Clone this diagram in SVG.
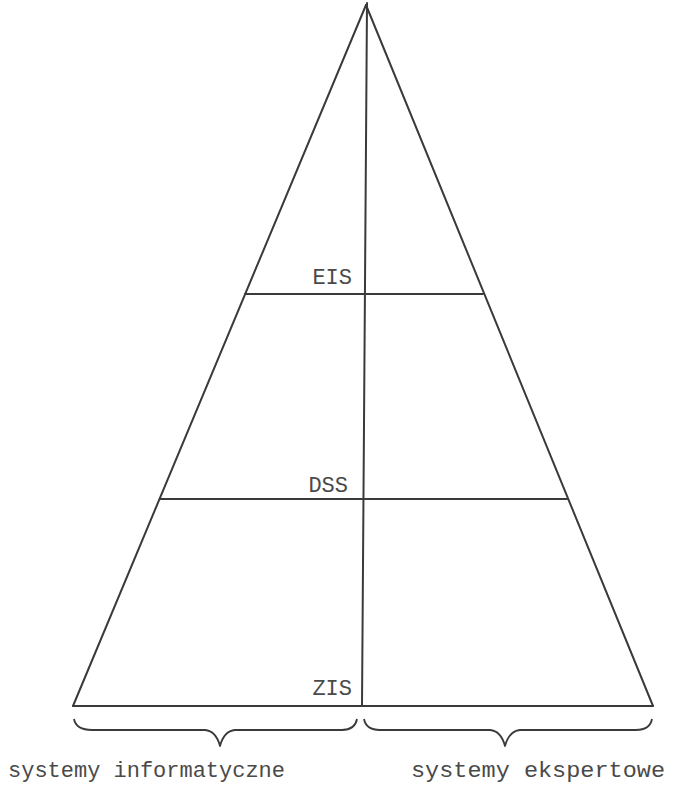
<svg xmlns="http://www.w3.org/2000/svg" width="676" height="789" viewBox="0 0 676 789">
<style>
.ln{stroke:#3a3a3a;stroke-width:2;fill:none;stroke-linecap:round}
.br{stroke:#3a3a3a;stroke-width:1.8;fill:none;stroke-linejoin:round}
.t{font-family:"Liberation Mono","DejaVu Sans Mono",monospace;font-size:22px;fill:#4a4a4a}
</style>
<rect width="676" height="789" fill="#fff"/>
<g id="connectors">
<path class="ln" d="M366,5 L73,706"/>
<path class="ln" d="M366,5 L653,706"/>
<path class="ln" d="M367,3 L362,706"/>
</g>
<g id="ZIS">
<path class="ln" d="M73,706 L653,706"/>
<text class="t" x="352" y="695" text-anchor="end">ZIS</text>
</g>
<g id="DSS">
<path class="ln" d="M160,499 L567,499"/>
<text class="t" x="348" y="492" text-anchor="end">DSS</text>
</g>
<g id="EIS">
<path class="ln" d="M245,294 L483,294"/>
<text class="t" x="352" y="284" text-anchor="end">EIS</text>
</g>
<g id="systemy-informatyczne">
<path class="br" d="M74,719 Q76,730 92,730 L205,730 Q216,731 220,746 Q224,731 235,730 L342,730 Q355,730 357,719"/>
<text class="t" x="8" y="777" textLength="277" lengthAdjust="spacingAndGlyphs">systemy informatyczne</text>
</g>
<g id="systemy-ekspertowe">
<path class="br" d="M364,719 Q366,730 380,730 L490,730 Q501,731 505,746 Q509,731 520,730 L636,730 Q650,730 652,719"/>
<text class="t" x="411" y="777" textLength="254" lengthAdjust="spacingAndGlyphs">systemy ekspertowe</text>
</g>
</svg>
